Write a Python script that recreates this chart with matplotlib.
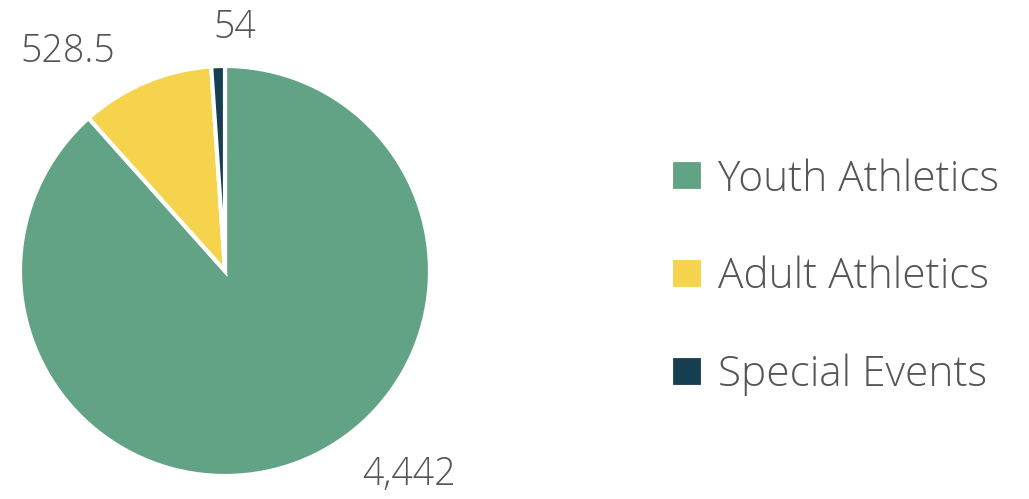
import matplotlib
matplotlib.use("Agg")
import matplotlib.pyplot as plt

categories = ["Youth Athletics", "Adult Athletics", "Special Events"]
values = [4442, 528.5, 54]
value_labels = ["4,442", "528.5", "54"]
colors = ["#62A386", "#F5D34C", "#173F52"]
text_color = "#555555"

plt.rcParams['font.family'] = ['Open Sans', 'DejaVu Sans']
plt.rcParams['font.weight'] = 'light'

W, H = 1029, 499
fig = plt.figure(figsize=(W / 100, H / 100), dpi=100)
cx, cy, r = 225, 271, 205
ax = fig.add_axes([(cx - r) / W, (H - cy - r) / H, 2 * r / W, 2 * r / H])
wedges, _ = ax.pie(values, colors=colors, startangle=90, counterclock=False,
                   radius=1, wedgeprops=dict(edgecolor="white", linewidth=3))
ax.set_xlim(-1, 1)
ax.set_ylim(-1, 1)
ax.set_aspect("equal")
ax.axis("off")

label_pos = [(0.90, -0.995), (-0.766, 1.068), (0.049, 1.185)]
for (x, y), t in zip(label_pos, value_labels):
    ax.text(x, y, t, ha="center", va="center", fontsize=27, color=text_color, clip_on=False)

leg = fig.legend(wedges, categories, loc="center left", bbox_to_anchor=(671 / W, (H - 277) / H),
                 frameon=False, fontsize=30.5, labelspacing=1.3, handlelength=0.75,
                 handleheight=0.75, handletextpad=0.36, borderpad=0, borderaxespad=0)
for t in leg.get_texts():
    t.set_color(text_color)

fig.savefig("out.png", dpi=100)
